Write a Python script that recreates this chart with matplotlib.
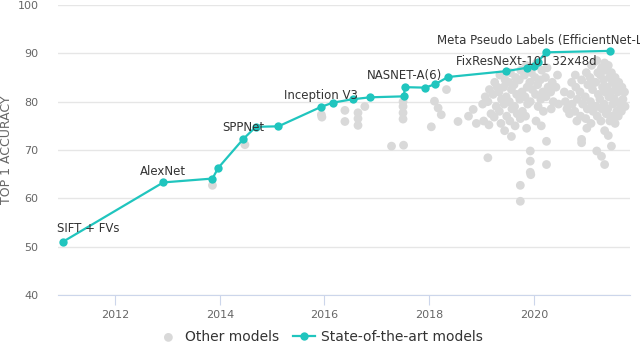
import matplotlib.pyplot as plt

# State-of-the-art models (year, top-1 accuracy)
sota_year = [2011.0, 2012.92, 2013.86, 2013.97, 2014.45, 2014.69, 2015.12, 2015.93,
             2016.16, 2016.54, 2016.87, 2017.52, 2017.53, 2017.92, 2018.11, 2018.36,
             2019.46, 2019.86, 2020.0, 2020.07, 2020.23, 2021.45]
sota_acc = [51.0, 63.3, 64.1, 66.3, 72.3, 74.8, 74.9, 78.9,
            79.8, 80.5, 80.9, 81.1, 83.0, 82.9, 83.6, 85.1,
            86.3, 87.0, 87.3, 88.2, 90.2, 90.5]

# labelled points: index into sota lists, label
sota_labels = [(0, "SIFT + FVs"), (1, "AlexNet"), (4, "SPPNet"), (7, "Inception V3"),
               (12, "NASNET-A(6)"), (17, "FixResNeXt-101 32x48d"),
               (20, "Meta Pseudo Labels (EfficientNet-L2)")]

# Other models (year, top-1 accuracy)
other_models = [
    (2013.86, 62.7), (2014.48, 71.1), (2015.94, 77.3), (2015.95, 76.8),
    (2016.39, 78.2), (2016.39, 75.9), (2016.64, 77.7), (2016.64, 75.1), (2016.64, 76.5),
    (2016.77, 79.0), (2017.28, 70.8), (2017.51, 71.0), (2017.5, 79.0), (2017.5, 77.7),
    (2017.5, 76.4), (2017.5, 80.0), (2018.1, 80.1), (2018.17, 78.7), (2018.23, 77.3),
    (2018.04, 74.8), (2018.33, 82.5), (2018.55, 75.9), (2018.75, 77.0), (2018.84, 78.4),
    (2018.9, 75.5), (2019.12, 68.4),
    (2019.02, 79.5), (2019.07, 81.0), (2019.04, 76.0),
    (2019.15, 82.5), (2019.12, 80.0), (2019.18, 77.5), (2019.14, 75.2),
    (2019.25, 84.0), (2019.22, 81.5), (2019.28, 79.0), (2019.24, 76.8), (2019.3, 83.0),
    (2019.35, 85.5), (2019.33, 82.0), (2019.38, 80.5), (2019.34, 78.0), (2019.37, 75.5),
    (2019.45, 84.5), (2019.42, 83.0), (2019.47, 81.0), (2019.43, 79.5), (2019.48, 77.0),
    (2019.44, 74.0),
    (2019.55, 86.0), (2019.52, 84.0), (2019.57, 82.5), (2019.53, 80.0), (2019.58, 78.5),
    (2019.54, 76.0), (2019.57, 72.8),
    (2019.65, 85.0), (2019.62, 83.5), (2019.67, 81.5), (2019.63, 79.0), (2019.68, 77.5),
    (2019.64, 75.0),
    (2019.75, 86.5), (2019.72, 84.5), (2019.77, 82.0), (2019.73, 80.5), (2019.78, 78.0),
    (2019.74, 76.5), (2019.74, 62.7), (2019.74, 59.4),
    (2019.85, 87.5), (2019.82, 85.5), (2019.87, 83.0), (2019.83, 81.0), (2019.88, 79.5),
    (2019.84, 77.0), (2019.86, 74.5),
    (2019.95, 86.0), (2019.92, 84.0), (2019.97, 82.5), (2019.93, 80.0), (2019.93, 69.8),
    (2019.93, 67.7), (2019.93, 65.4), (2019.94, 64.9),
    (2020.05, 88.0), (2020.02, 85.0), (2020.07, 83.5), (2020.03, 81.5), (2020.08, 79.0),
    (2020.04, 76.0),
    (2020.15, 86.5), (2020.12, 84.5), (2020.17, 82.0), (2020.13, 80.5), (2020.18, 78.0),
    (2020.14, 75.0),
    (2020.25, 87.0), (2020.22, 85.0), (2020.27, 83.0), (2020.23, 81.0), (2020.24, 71.8),
    (2020.24, 67.0),
    (2020.35, 84.0), (2020.32, 82.0), (2020.37, 80.0), (2020.33, 78.5),
    (2020.45, 85.5), (2020.42, 83.0), (2020.47, 79.5),
    (2020.6, 80.0), (2020.63, 78.5), (2020.58, 82.0),
    (2020.7, 81.5), (2020.73, 79.5), (2020.68, 77.5), (2020.72, 84.0),
    (2020.8, 83.0), (2020.83, 80.5), (2020.78, 78.0), (2020.82, 76.0), (2020.79, 85.5),
    (2020.91, 84.5), (2020.88, 82.0), (2020.93, 79.5), (2020.89, 77.0), (2020.91, 72.2),
    (2020.91, 71.5),
    (2021.0, 86.0), (2021.03, 83.5), (2020.98, 81.0), (2021.02, 78.5), (2020.99, 76.5),
    (2021.01, 74.5),
    (2021.1, 87.5), (2021.07, 85.0), (2021.12, 82.5), (2021.08, 80.0), (2021.13, 78.0),
    (2021.09, 75.5), (2021.15, 88.2), (2021.15, 84.0), (2021.16, 79.0),
    (2021.2, 88.5), (2021.22, 86.0), (2021.18, 84.0), (2021.23, 81.5), (2021.19, 79.0),
    (2021.21, 77.0), (2021.2, 69.8),
    (2021.29, 87.0), (2021.27, 85.5), (2021.31, 83.0), (2021.26, 80.5), (2021.3, 78.5),
    (2021.28, 76.0), (2021.29, 68.7),
    (2021.35, 88.0), (2021.37, 86.5), (2021.33, 84.5), (2021.36, 82.0), (2021.34, 79.5),
    (2021.38, 77.5), (2021.35, 74.0), (2021.35, 67.0),
    (2021.42, 87.5), (2021.44, 85.0), (2021.4, 83.0), (2021.43, 81.0), (2021.41, 78.5),
    (2021.45, 76.0), (2021.42, 73.0),
    (2021.48, 86.0), (2021.5, 84.0), (2021.47, 82.0), (2021.51, 79.5), (2021.49, 77.0),
    (2021.48, 70.8),
    (2021.55, 85.0), (2021.57, 83.0), (2021.54, 80.5), (2021.58, 78.0), (2021.55, 75.5),
    (2021.62, 84.0), (2021.6, 82.0), (2021.64, 79.5), (2021.61, 77.0),
    (2021.68, 83.0), (2021.7, 80.5), (2021.67, 78.0),
    (2021.73, 82.0), (2021.74, 79.0),
]
other_year = [p[0] for p in other_models]
other_acc = [p[1] for p in other_models]

teal = '#20c5be'
gray = '#d9d9d9'

fig = plt.figure(figsize=(6.4, 3.53), dpi=100)
ax = fig.add_axes([0.0906, 0.164, 0.8934, 0.822])

ax.scatter(other_year, other_acc, s=40, color=gray, edgecolors='none', zorder=2,
           label='Other models')
ax.plot(sota_year, sota_acc, color=teal, lw=1.6, marker='o', markersize=6,
        markeredgewidth=0, zorder=3, label='State-of-the-art models')

for i, txt in sota_labels:
    if i == 0:
        ax.annotate(txt, (sota_year[i], sota_acc[i]), xytext=(-4, 5),
                    textcoords='offset points', ha='left', va='bottom',
                    fontsize=8.5, color='#333333', zorder=4)
    else:
        dy = 0 if i == 17 else 3.5
        ax.annotate(txt, (sota_year[i], sota_acc[i]), xytext=(0, dy),
                    textcoords='offset points', ha='center', va='bottom',
                    fontsize=8.5, color='#333333', zorder=4, annotation_clip=False)

ax.set_xlim(2010.91, 2021.83)
ax.set_ylim(40, 100)
ax.set_yticks([40, 50, 60, 70, 80, 90, 100])
ax.set_xticks([2012, 2014, 2016, 2018, 2020])
ax.grid(axis='y', color='#e6e6e6', lw=1)
ax.set_axisbelow(True)
for s in ['top', 'right', 'left']:
    ax.spines[s].set_visible(False)
ax.spines['bottom'].set_color('#ccd6eb')
ax.tick_params(axis='y', length=0, labelsize=8, labelcolor='#666666', pad=14)
ax.tick_params(axis='x', length=7, color='#ccd6eb', labelsize=8, labelcolor='#666666', pad=4)
ax.set_ylabel('TOP 1 ACCURACY', fontsize=9, color='#666666', labelpad=3)

fig.legend(loc='lower center', bbox_to_anchor=(0.5, -0.01), ncol=2, frameon=False,
           fontsize=10, labelcolor='#333333', handlelength=1.6, columnspacing=1.0,
           handletextpad=0.4)

fig.savefig('out.png', dpi=100)
